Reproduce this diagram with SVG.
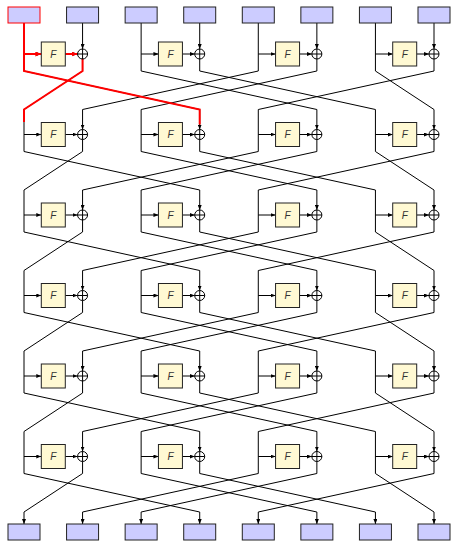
<svg xmlns="http://www.w3.org/2000/svg" width="451" height="541" viewBox="0 0 451 541">
<defs>
<style>
.w{fill:none;stroke:#000;stroke-width:1}
.a{marker-end:url(#ah)}
.red{fill:none;stroke:#f00;stroke-width:2}
.ra{marker-end:url(#rh)}
.blk rect{fill:#ccccff;stroke:#222;stroke-width:1}
.blk.hl rect{stroke:#f00}
.f rect{fill:#fff9d3;stroke:#222;stroke-width:1}
.f text{font-family:"Liberation Sans",Arial,sans-serif;font-style:italic;font-size:10px;fill:#333;text-anchor:middle}
.x circle{fill:none;stroke:#000;stroke-width:1}
.x path{fill:none;stroke:#000;stroke-width:1}
</style>
<marker id="ah" viewBox="0 0 5 4" refX="5" refY="2" markerWidth="5" markerHeight="4" orient="auto" markerUnits="userSpaceOnUse"><path d="M0,0L5,2L0,4z" fill="#000"/></marker>
<marker id="rh" viewBox="0 0 6 5" refX="6" refY="2.5" markerWidth="6" markerHeight="5" orient="auto" markerUnits="userSpaceOnUse"><path d="M0,0L6,2.5L0,5z" fill="#f00"/></marker>
</defs>

<g id="connectors">
<!-- round 1 -->
<path class="w" d="M24 23V71L199.71 109.5"/>
<path class="w a" d="M82.57 23V49"/>
<path class="w a" d="M24 54H41.29"/>
<path class="w a" d="M65.29 54H77.57"/>
<path class="w" d="M82.57 59V71L24 109.5"/>
<path class="w" d="M141.14 23V71L316.86 109.5"/>
<path class="w a" d="M199.71 23V49"/>
<path class="w a" d="M141.14 54H158.43"/>
<path class="w a" d="M182.43 54H194.71"/>
<path class="w" d="M199.71 59V71L375.43 109.5"/>
<path class="w" d="M258.29 23V71L82.57 109.5"/>
<path class="w a" d="M316.86 23V49"/>
<path class="w a" d="M258.29 54H275.57"/>
<path class="w a" d="M299.57 54H311.86"/>
<path class="w" d="M316.86 59V71L141.14 109.5"/>
<path class="w" d="M375.43 23V71L434 109.5"/>
<path class="w a" d="M434 23V49"/>
<path class="w a" d="M375.43 54H392.71"/>
<path class="w a" d="M416.71 54H429"/>
<path class="w" d="M434 59V71L258.29 109.5"/>
<!-- round 2 -->
<path class="w" d="M24 109.5V151.5L199.71 190"/>
<path class="w a" d="M82.57 109.5V129.5"/>
<path class="w a" d="M24 134.5H41.29"/>
<path class="w a" d="M65.29 134.5H77.57"/>
<path class="w" d="M82.57 139.5V151.5L24 190"/>
<path class="w" d="M141.14 109.5V151.5L316.86 190"/>
<path class="w a" d="M199.71 109.5V129.5"/>
<path class="w a" d="M141.14 134.5H158.43"/>
<path class="w a" d="M182.43 134.5H194.71"/>
<path class="w" d="M199.71 139.5V151.5L375.43 190"/>
<path class="w" d="M258.29 109.5V151.5L82.57 190"/>
<path class="w a" d="M316.86 109.5V129.5"/>
<path class="w a" d="M258.29 134.5H275.57"/>
<path class="w a" d="M299.57 134.5H311.86"/>
<path class="w" d="M316.86 139.5V151.5L141.14 190"/>
<path class="w" d="M375.43 109.5V151.5L434 190"/>
<path class="w a" d="M434 109.5V129.5"/>
<path class="w a" d="M375.43 134.5H392.71"/>
<path class="w a" d="M416.71 134.5H429"/>
<path class="w" d="M434 139.5V151.5L258.29 190"/>
<!-- round 3 -->
<path class="w" d="M24 190V232L199.71 270.5"/>
<path class="w a" d="M82.57 190V210"/>
<path class="w a" d="M24 215H41.29"/>
<path class="w a" d="M65.29 215H77.57"/>
<path class="w" d="M82.57 220V232L24 270.5"/>
<path class="w" d="M141.14 190V232L316.86 270.5"/>
<path class="w a" d="M199.71 190V210"/>
<path class="w a" d="M141.14 215H158.43"/>
<path class="w a" d="M182.43 215H194.71"/>
<path class="w" d="M199.71 220V232L375.43 270.5"/>
<path class="w" d="M258.29 190V232L82.57 270.5"/>
<path class="w a" d="M316.86 190V210"/>
<path class="w a" d="M258.29 215H275.57"/>
<path class="w a" d="M299.57 215H311.86"/>
<path class="w" d="M316.86 220V232L141.14 270.5"/>
<path class="w" d="M375.43 190V232L434 270.5"/>
<path class="w a" d="M434 190V210"/>
<path class="w a" d="M375.43 215H392.71"/>
<path class="w a" d="M416.71 215H429"/>
<path class="w" d="M434 220V232L258.29 270.5"/>
<!-- round 4 -->
<path class="w" d="M24 270.5V312.5L199.71 351"/>
<path class="w a" d="M82.57 270.5V290.5"/>
<path class="w a" d="M24 295.5H41.29"/>
<path class="w a" d="M65.29 295.5H77.57"/>
<path class="w" d="M82.57 300.5V312.5L24 351"/>
<path class="w" d="M141.14 270.5V312.5L316.86 351"/>
<path class="w a" d="M199.71 270.5V290.5"/>
<path class="w a" d="M141.14 295.5H158.43"/>
<path class="w a" d="M182.43 295.5H194.71"/>
<path class="w" d="M199.71 300.5V312.5L375.43 351"/>
<path class="w" d="M258.29 270.5V312.5L82.57 351"/>
<path class="w a" d="M316.86 270.5V290.5"/>
<path class="w a" d="M258.29 295.5H275.57"/>
<path class="w a" d="M299.57 295.5H311.86"/>
<path class="w" d="M316.86 300.5V312.5L141.14 351"/>
<path class="w" d="M375.43 270.5V312.5L434 351"/>
<path class="w a" d="M434 270.5V290.5"/>
<path class="w a" d="M375.43 295.5H392.71"/>
<path class="w a" d="M416.71 295.5H429"/>
<path class="w" d="M434 300.5V312.5L258.29 351"/>
<!-- round 5 -->
<path class="w" d="M24 351V393L199.71 431.5"/>
<path class="w a" d="M82.57 351V371"/>
<path class="w a" d="M24 376H41.29"/>
<path class="w a" d="M65.29 376H77.57"/>
<path class="w" d="M82.57 381V393L24 431.5"/>
<path class="w" d="M141.14 351V393L316.86 431.5"/>
<path class="w a" d="M199.71 351V371"/>
<path class="w a" d="M141.14 376H158.43"/>
<path class="w a" d="M182.43 376H194.71"/>
<path class="w" d="M199.71 381V393L375.43 431.5"/>
<path class="w" d="M258.29 351V393L82.57 431.5"/>
<path class="w a" d="M316.86 351V371"/>
<path class="w a" d="M258.29 376H275.57"/>
<path class="w a" d="M299.57 376H311.86"/>
<path class="w" d="M316.86 381V393L141.14 431.5"/>
<path class="w" d="M375.43 351V393L434 431.5"/>
<path class="w a" d="M434 351V371"/>
<path class="w a" d="M375.43 376H392.71"/>
<path class="w a" d="M416.71 376H429"/>
<path class="w" d="M434 381V393L258.29 431.5"/>
<!-- round 6 -->
<path class="w a" d="M24 431.5V473.5L199.71 512V524"/>
<path class="w a" d="M82.57 431.5V451.5"/>
<path class="w a" d="M24 456.5H41.29"/>
<path class="w a" d="M65.29 456.5H77.57"/>
<path class="w a" d="M82.57 461.5V473.5L24 512V524"/>
<path class="w a" d="M141.14 431.5V473.5L316.86 512V524"/>
<path class="w a" d="M199.71 431.5V451.5"/>
<path class="w a" d="M141.14 456.5H158.43"/>
<path class="w a" d="M182.43 456.5H194.71"/>
<path class="w a" d="M199.71 461.5V473.5L375.43 512V524"/>
<path class="w a" d="M258.29 431.5V473.5L82.57 512V524"/>
<path class="w a" d="M316.86 431.5V451.5"/>
<path class="w a" d="M258.29 456.5H275.57"/>
<path class="w a" d="M299.57 456.5H311.86"/>
<path class="w a" d="M316.86 461.5V473.5L141.14 512V524"/>
<path class="w a" d="M375.43 431.5V473.5L434 512V524"/>
<path class="w a" d="M434 431.5V451.5"/>
<path class="w a" d="M375.43 456.5H392.71"/>
<path class="w a" d="M416.71 456.5H429"/>
<path class="w a" d="M434 461.5V473.5L258.29 512V524"/>
<!-- highlighted path -->
<path class="red" d="M24 23V71L199.71 109.5V124.5"/>
<path class="red ra" d="M24 54H41.29"/>
<path class="red ra" d="M65.29 54H77.57"/>
<path class="red" d="M82.57 59V71L24 109.5V122"/>
</g>

<g id="in0" class="blk hl"><rect x="8" y="7" width="32" height="16"/></g>
<g id="in1" class="blk"><rect x="66.57" y="7" width="32" height="16"/></g>
<g id="in2" class="blk"><rect x="125.14" y="7" width="32" height="16"/></g>
<g id="in3" class="blk"><rect x="183.71" y="7" width="32" height="16"/></g>
<g id="in4" class="blk"><rect x="242.29" y="7" width="32" height="16"/></g>
<g id="in5" class="blk"><rect x="300.86" y="7" width="32" height="16"/></g>
<g id="in6" class="blk"><rect x="359.43" y="7" width="32" height="16"/></g>
<g id="in7" class="blk"><rect x="418" y="7" width="32" height="16"/></g>

<g id="out0" class="blk"><rect x="8" y="524" width="32" height="16"/></g>
<g id="out1" class="blk"><rect x="66.57" y="524" width="32" height="16"/></g>
<g id="out2" class="blk"><rect x="125.14" y="524" width="32" height="16"/></g>
<g id="out3" class="blk"><rect x="183.71" y="524" width="32" height="16"/></g>
<g id="out4" class="blk"><rect x="242.29" y="524" width="32" height="16"/></g>
<g id="out5" class="blk"><rect x="300.86" y="524" width="32" height="16"/></g>
<g id="out6" class="blk"><rect x="359.43" y="524" width="32" height="16"/></g>
<g id="out7" class="blk"><rect x="418" y="524" width="32" height="16"/></g>

<g id="f1a" class="f"><rect x="41.29" y="42" width="24" height="24"/><text x="53.29" y="57.5">F</text></g>
<g id="f1b" class="f"><rect x="158.43" y="42" width="24" height="24"/><text x="170.43" y="57.5">F</text></g>
<g id="f1c" class="f"><rect x="275.57" y="42" width="24" height="24"/><text x="287.57" y="57.5">F</text></g>
<g id="f1d" class="f"><rect x="392.71" y="42" width="24" height="24"/><text x="404.71" y="57.5">F</text></g>
<g id="f2a" class="f"><rect x="41.29" y="122.5" width="24" height="24"/><text x="53.29" y="138">F</text></g>
<g id="f2b" class="f"><rect x="158.43" y="122.5" width="24" height="24"/><text x="170.43" y="138">F</text></g>
<g id="f2c" class="f"><rect x="275.57" y="122.5" width="24" height="24"/><text x="287.57" y="138">F</text></g>
<g id="f2d" class="f"><rect x="392.71" y="122.5" width="24" height="24"/><text x="404.71" y="138">F</text></g>
<g id="f3a" class="f"><rect x="41.29" y="203" width="24" height="24"/><text x="53.29" y="218.5">F</text></g>
<g id="f3b" class="f"><rect x="158.43" y="203" width="24" height="24"/><text x="170.43" y="218.5">F</text></g>
<g id="f3c" class="f"><rect x="275.57" y="203" width="24" height="24"/><text x="287.57" y="218.5">F</text></g>
<g id="f3d" class="f"><rect x="392.71" y="203" width="24" height="24"/><text x="404.71" y="218.5">F</text></g>
<g id="f4a" class="f"><rect x="41.29" y="283.5" width="24" height="24"/><text x="53.29" y="299">F</text></g>
<g id="f4b" class="f"><rect x="158.43" y="283.5" width="24" height="24"/><text x="170.43" y="299">F</text></g>
<g id="f4c" class="f"><rect x="275.57" y="283.5" width="24" height="24"/><text x="287.57" y="299">F</text></g>
<g id="f4d" class="f"><rect x="392.71" y="283.5" width="24" height="24"/><text x="404.71" y="299">F</text></g>
<g id="f5a" class="f"><rect x="41.29" y="364" width="24" height="24"/><text x="53.29" y="379.5">F</text></g>
<g id="f5b" class="f"><rect x="158.43" y="364" width="24" height="24"/><text x="170.43" y="379.5">F</text></g>
<g id="f5c" class="f"><rect x="275.57" y="364" width="24" height="24"/><text x="287.57" y="379.5">F</text></g>
<g id="f5d" class="f"><rect x="392.71" y="364" width="24" height="24"/><text x="404.71" y="379.5">F</text></g>
<g id="f6a" class="f"><rect x="41.29" y="444.5" width="24" height="24"/><text x="53.29" y="460">F</text></g>
<g id="f6b" class="f"><rect x="158.43" y="444.5" width="24" height="24"/><text x="170.43" y="460">F</text></g>
<g id="f6c" class="f"><rect x="275.57" y="444.5" width="24" height="24"/><text x="287.57" y="460">F</text></g>
<g id="f6d" class="f"><rect x="392.71" y="444.5" width="24" height="24"/><text x="404.71" y="460">F</text></g>

<g id="x1a" class="x"><circle cx="82.57" cy="54" r="5"/><path d="M77.57 54H87.57M82.57 49V59"/></g>
<g id="x1b" class="x"><circle cx="199.71" cy="54" r="5"/><path d="M194.71 54H204.71M199.71 49V59"/></g>
<g id="x1c" class="x"><circle cx="316.86" cy="54" r="5"/><path d="M311.86 54H321.86M316.86 49V59"/></g>
<g id="x1d" class="x"><circle cx="434" cy="54" r="5"/><path d="M429 54H439M434 49V59"/></g>
<g id="x2a" class="x"><circle cx="82.57" cy="134.5" r="5"/><path d="M77.57 134.5H87.57M82.57 129.5V139.5"/></g>
<g id="x2b" class="x"><circle cx="199.71" cy="134.5" r="5"/><path d="M194.71 134.5H204.71M199.71 129.5V139.5"/></g>
<g id="x2c" class="x"><circle cx="316.86" cy="134.5" r="5"/><path d="M311.86 134.5H321.86M316.86 129.5V139.5"/></g>
<g id="x2d" class="x"><circle cx="434" cy="134.5" r="5"/><path d="M429 134.5H439M434 129.5V139.5"/></g>
<g id="x3a" class="x"><circle cx="82.57" cy="215" r="5"/><path d="M77.57 215H87.57M82.57 210V220"/></g>
<g id="x3b" class="x"><circle cx="199.71" cy="215" r="5"/><path d="M194.71 215H204.71M199.71 210V220"/></g>
<g id="x3c" class="x"><circle cx="316.86" cy="215" r="5"/><path d="M311.86 215H321.86M316.86 210V220"/></g>
<g id="x3d" class="x"><circle cx="434" cy="215" r="5"/><path d="M429 215H439M434 210V220"/></g>
<g id="x4a" class="x"><circle cx="82.57" cy="295.5" r="5"/><path d="M77.57 295.5H87.57M82.57 290.5V300.5"/></g>
<g id="x4b" class="x"><circle cx="199.71" cy="295.5" r="5"/><path d="M194.71 295.5H204.71M199.71 290.5V300.5"/></g>
<g id="x4c" class="x"><circle cx="316.86" cy="295.5" r="5"/><path d="M311.86 295.5H321.86M316.86 290.5V300.5"/></g>
<g id="x4d" class="x"><circle cx="434" cy="295.5" r="5"/><path d="M429 295.5H439M434 290.5V300.5"/></g>
<g id="x5a" class="x"><circle cx="82.57" cy="376" r="5"/><path d="M77.57 376H87.57M82.57 371V381"/></g>
<g id="x5b" class="x"><circle cx="199.71" cy="376" r="5"/><path d="M194.71 376H204.71M199.71 371V381"/></g>
<g id="x5c" class="x"><circle cx="316.86" cy="376" r="5"/><path d="M311.86 376H321.86M316.86 371V381"/></g>
<g id="x5d" class="x"><circle cx="434" cy="376" r="5"/><path d="M429 376H439M434 371V381"/></g>
<g id="x6a" class="x"><circle cx="82.57" cy="456.5" r="5"/><path d="M77.57 456.5H87.57M82.57 451.5V461.5"/></g>
<g id="x6b" class="x"><circle cx="199.71" cy="456.5" r="5"/><path d="M194.71 456.5H204.71M199.71 451.5V461.5"/></g>
<g id="x6c" class="x"><circle cx="316.86" cy="456.5" r="5"/><path d="M311.86 456.5H321.86M316.86 451.5V461.5"/></g>
<g id="x6d" class="x"><circle cx="434" cy="456.5" r="5"/><path d="M429 456.5H439M434 451.5V461.5"/></g>
</svg>
